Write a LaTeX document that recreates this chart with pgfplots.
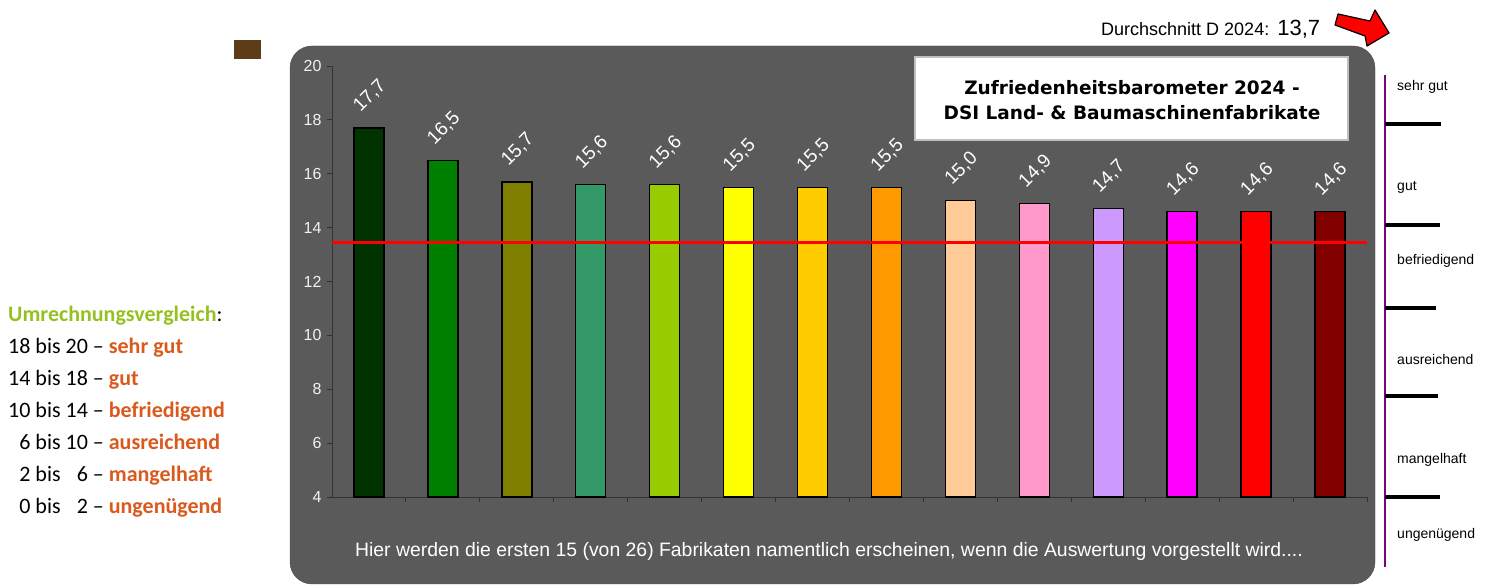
\documentclass[border=0pt]{standalone}
\usepackage{pgfplots}
\pgfplotsset{compat=1.18}
\usepackage{fontspec}
\setmainfont{Liberation Sans}
\newfontfamily\carlito{Carlito}
\newfontfamily\dejavu{DejaVu Sans}
\definecolor{bg}{HTML}{5A5A5A}
\definecolor{brownbox}{HTML}{5C3D17}
\definecolor{umgreen}{HTML}{94C11F}
\definecolor{umorange}{HTML}{DA591D}
\definecolor{scalepurple}{HTML}{800080}
\definecolor{c1}{HTML}{003300}
\definecolor{c2}{HTML}{008000}
\definecolor{c3}{HTML}{808000}
\definecolor{c4}{HTML}{339966}
\definecolor{c5}{HTML}{99CC00}
\definecolor{c6}{HTML}{FFFF00}
\definecolor{c7}{HTML}{FFCC00}
\definecolor{c8}{HTML}{FF9900}
\definecolor{c9}{HTML}{FFCC99}
\definecolor{c10}{HTML}{FF99CC}
\definecolor{c11}{HTML}{CC99FF}
\definecolor{c12}{HTML}{FF00FF}
\definecolor{c13}{HTML}{FF0000}
\definecolor{c14}{HTML}{800000}
\pgfplotsset{bb/.style={fill=#1, draw=black, line width=1.4pt, bar shift=0pt, nodes near coords}}
\begin{document}
\begin{tikzpicture}[x=1pt,y=1pt]
\path[use as bounding box] (0,0) rectangle (1488,585);
% chart background
\filldraw[fill=bg, draw=black!70, rounded corners=22pt] (290,1) rectangle (1375,539);
% small brown box
\fill[brownbox] (234,526.3) rectangle (261,545);
\begin{axis}[
  at={(332pt,88pt)}, anchor=south west,
  scale only axis, width=1035pt, height=431pt,
  xmin=-0.5, xmax=13.5, ymin=4, ymax=20,
  axis lines*=left,
  axis line style={black!80, line width=0.9pt},
  ytick={4,6,...,20},
  xtick={0.5,1.5,...,13.5}, xticklabels={},
  tick align=outside, major tick length=5pt,
  tick style={black!80, line width=0.9pt},
  yticklabel style={font=\fontsize{16}{18}\selectfont, text=white!95!black, xshift=-2pt},
  /pgf/number format/assume math mode=true,
  ybar, bar width=30pt,
  every node near coord/.append style={font=\fontsize{19}{21}\selectfont, text=white,
    /pgf/number format/fixed, /pgf/number format/fixed zerofill,
    /pgf/number format/precision=1, /pgf/number format/use comma,
    anchor=center, shift={(1pt,32pt)}, rotate=45},
  clip=false,
]
\addplot[bb=c1]  coordinates {(0,17.7)};
\addplot[bb=c2]  coordinates {(1,16.5)};
\addplot[bb=c3]  coordinates {(2,15.7)};
\addplot[bb=c4]  coordinates {(3,15.6)};
\addplot[bb=c5]  coordinates {(4,15.6)};
\addplot[bb=c6]  coordinates {(5,15.5)};
\addplot[bb=c7]  coordinates {(6,15.5)};
\addplot[bb=c8]  coordinates {(7,15.5)};
\addplot[bb=c9]  coordinates {(8,15.0)};
\addplot[bb=c10] coordinates {(9,14.9)};
\addplot[bb=c11] coordinates {(10,14.7)};
\addplot[bb=c12] coordinates {(11,14.6)};
\addplot[bb=c13] coordinates {(12,14.6)};
\addplot[bb=c14] coordinates {(13,14.6)};
\addplot[sharp plot, draw=red, line width=3.8pt, mark=none] coordinates {(-0.5,13.45) (13.5,13.45)};
\end{axis}
% title box
\filldraw[fill=white, draw=black!25, line width=1.2pt] (915,445) rectangle (1348,528);
\node[align=center, font=\dejavu\bfseries\fontsize{18.5}{25}\selectfont] at (1132,484.5)
  {Zufriedenheitsbarometer 2024 -\\DSI Land- \& Baumaschinenfabrikate};
% bottom note
\node[text=white, font=\fontsize{19.4}{21}\selectfont] at (829,34)
  {Hier werden die ersten 15 (von 26) Fabrikaten namentlich erscheinen, wenn die Auswertung vorgestellt wird....};
% top average
\node[anchor=base west, inner sep=0pt] at (1101,549)
  {\fontsize{18}{20}\selectfont Durchschnitt D 2024:\hspace{8pt}\fontsize{22}{24}\selectfont 13,7};
% red arrow
\filldraw[fill=red, draw=black, line width=1.2pt, line join=round]
  (1338,571) -- (1370,564) -- (1375,575) -- (1389,552) -- (1367,539) -- (1365,549) -- (1335,560) -- cycle;
% right scale
\draw[scalepurple, line width=2.5pt] (1385,510) -- (1385,18);
\draw[black, line width=3.5pt] (1385,461) -- (1441,461);
\draw[black, line width=3.5pt] (1385,360) -- (1440,360);
\draw[black, line width=3.5pt] (1385,277) -- (1436,277);
\draw[black, line width=3.5pt] (1385,189) -- (1438,189);
\draw[black, line width=3.5pt] (1385,88) -- (1440,88);
\begin{scope}[every node/.style={anchor=west, inner sep=0pt, font=\fontsize{14}{16}\selectfont}]
\node at (1397,498) {sehr gut};
\node at (1397,398) {gut};
\node at (1397,324) {befriedigend};
\node at (1397,225) {ausreichend};
\node at (1397,125) {mangelhaft};
\node at (1397,50) {ungenügend};
\end{scope}
% left conversion table
\begin{scope}[every node/.style={anchor=base west, inner sep=0pt, font=\carlito\fontsize{22}{26}\selectfont}]
\node at (8,263) {\textcolor{umgreen}{\bfseries Umrechnungsvergleich}:};
\node at (8,231) {18 bis 20 – \textcolor{umorange}{\bfseries sehr gut}};
\node at (8,199) {14 bis 18 – \textcolor{umorange}{\bfseries gut}};
\node at (8,167) {10 bis 14 – \textcolor{umorange}{\bfseries befriedigend}};
\node at (8,135) {\hphantom{1}6 bis 10 – \textcolor{umorange}{\bfseries ausreichend}};
\node at (8,103) {\hphantom{1}2 bis \hphantom{1}6 – \textcolor{umorange}{\bfseries mangelhaft}};
\node at (8,71) {\hphantom{1}0 bis \hphantom{1}2 – \textcolor{umorange}{\bfseries ungenügend}};
\end{scope}
\end{tikzpicture}
\end{document}
